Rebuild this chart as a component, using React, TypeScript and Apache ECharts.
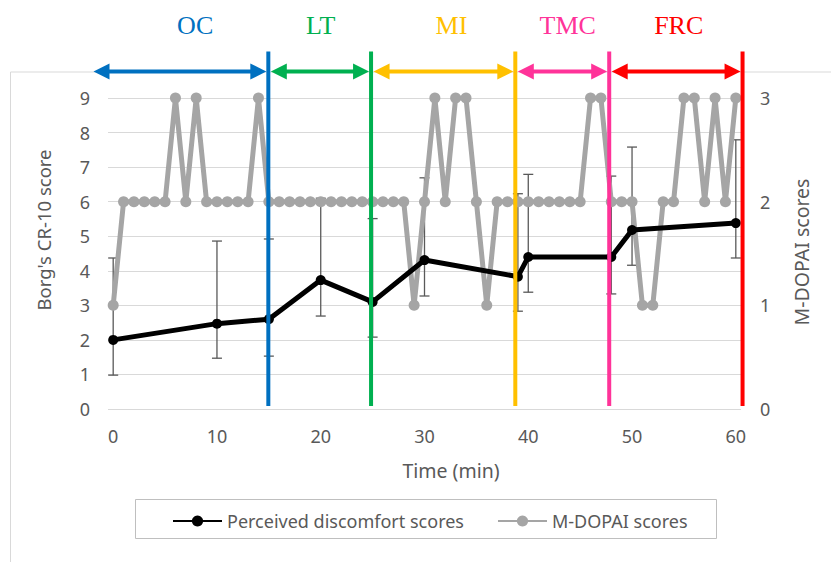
import React, { useEffect, useRef } from 'react';
import * as echarts from 'echarts';

// ---- Data ----
const minutes = [
  0, 1, 2, 3, 4, 5, 6, 7, 8, 9,
  10, 11, 12, 13, 14, 15, 16, 17, 18, 19,
  20, 21, 22, 23, 24, 25, 26, 27, 28, 29,
  30, 31, 32, 33, 34, 35, 36, 37, 38, 39,
  40, 41, 42, 43, 44, 45, 46, 47, 48, 49,
  50, 51, 52, 53, 54, 55, 56, 57, 58, 59,
  60,
];
const mdopaiScores = [
  1, 2, 2, 2, 2, 2, 3, 2, 3, 2,
  2, 2, 2, 2, 3, 2, 2, 2, 2, 2,
  2, 2, 2, 2, 2, 2, 2, 2, 2, 1,
  2, 3, 2, 3, 3, 2, 1, 2, 2, 2,
  2, 2, 2, 2, 2, 2, 3, 3, 2, 2,
  2, 1, 1, 2, 2, 3, 3, 2, 3, 2,
  3,
];

const discomfortTimes = [0, 10, 15, 20, 25, 30, 39, 40, 48, 50, 60];
const discomfortScores = [2.0, 2.47, 2.6, 3.73, 3.1, 4.31, 3.83, 4.4, 4.4, 5.18, 5.38];
const errorUpper = [4.37, 4.86, 4.92, 6.1, 5.51, 6.69, 6.23, 6.79, 6.74, 7.58, 7.79];
const errorLower = [0.98, 1.47, 1.53, 2.69, 2.08, 3.27, 2.83, 3.38, 3.33, 4.16, 4.37];

const xTickValues = [0, 10, 20, 30, 40, 50, 60];

const phaseNames = ['OC', 'LT', 'MI', 'TMC', 'FRC'];
const phaseStart = [-1.9, 14.95, 24.85, 38.75, 47.8];
const phaseEnd = [14.95, 24.85, 38.75, 47.8, 60.65];
const phaseLabelAt = [7.9, 20.0, 32.6, 43.8, 54.5];
const phaseColors = ['#0070C0', '#00B050', '#FFC000', '#FF3399', '#FF0000'];

const SERIES_DISCOMFORT = 'Perceived discomfort scores';
const SERIES_MDOPAI = 'M-DOPAI scores';

export default function App() {
  const ref = useRef<HTMLDivElement>(null);

  useEffect(() => {
    if (!ref.current) return;
    const chart = echarts.init(ref.current, null, { renderer: 'svg' });
    const FONT = 'Noto Sans';
    const TXT = '#595959';

    const option: any = {
      animation: false,
      backgroundColor: '#ffffff',
      grid: { left: 108, right: 90, top: 98, bottom: 153 },
      xAxis: {
        type: 'value',
        min: -0.5,
        max: 60.5,
        axisLine: { show: false },
        axisTick: { show: false },
        splitLine: { show: false },
        axisLabel: {
          customValues: xTickValues,
          color: TXT,
          fontFamily: FONT,
          fontSize: 18,
          margin: 18,
        },
      },
      yAxis: [
        {
          type: 'value',
          min: 0,
          max: 9,
          interval: 1,
          axisLine: { show: false },
          axisTick: { show: false },
          splitLine: { show: true, lineStyle: { color: '#D9D9D9', width: 1 } },
          axisLabel: { color: TXT, fontFamily: FONT, fontSize: 18, margin: 18 },
        },
        {
          type: 'value',
          min: 0,
          max: 3,
          interval: 1,
          position: 'right',
          axisLine: { show: false },
          axisTick: { show: false },
          splitLine: { show: false },
          axisLabel: { color: TXT, fontFamily: FONT, fontSize: 18, margin: 19 },
        },
      ],
      legend: {
        data: [SERIES_DISCOMFORT, SERIES_MDOPAI],
        left: 172,
        top: 512,
        itemWidth: 49,
        itemHeight: 14,
        itemGap: 33,
        padding: 0,
        textStyle: { color: TXT, fontFamily: FONT, fontSize: 18 },
      },
      graphic: [
        {
          type: 'line',
          silent: true,
          shape: { x1: 10.5, y1: 72, x2: 831, y2: 72 },
          style: { stroke: '#D9D9D9', lineWidth: 1 },
          z: -1,
        },
        {
          type: 'line',
          silent: true,
          shape: { x1: 10.5, y1: 72, x2: 10.5, y2: 562 },
          style: { stroke: '#D9D9D9', lineWidth: 1 },
          z: -1,
        },
        {
          type: 'rect',
          silent: true,
          shape: { x: 135.5, y: 499.5, width: 581, height: 39 },
          style: { fill: 'none', stroke: '#BFBFBF', lineWidth: 1 },
        },
        {
          type: 'text',
          x: 43.5,
          y: 230,
          rotation: Math.PI / 2,
          style: {
            text: "Borg's CR-10 score",
            fontFamily: FONT,
            fontSize: 18.5,
            fill: TXT,
            textAlign: 'center',
            textVerticalAlign: 'middle',
          },
        },
        {
          type: 'text',
          x: 801,
          y: 252,
          rotation: Math.PI / 2,
          style: {
            text: 'M-DOPAI scores',
            fontFamily: FONT,
            fontSize: 19.5,
            fill: TXT,
            textAlign: 'center',
            textVerticalAlign: 'middle',
          },
        },
        {
          type: 'text',
          x: 451,
          y: 470,
          style: {
            text: 'Time (min)',
            fontFamily: FONT,
            fontSize: 19.5,
            fill: TXT,
            textAlign: 'center',
            textVerticalAlign: 'middle',
          },
        },
      ],
      series: [
        {
          type: 'custom',
          name: 'errorbars',
          yAxisIndex: 0,
          z: 2,
          silent: true,
          data: discomfortTimes.map((t, i) => [t, errorLower[i], errorUpper[i]]),
          encode: { x: 0, y: [1, 2] },
          renderItem: (params: any, api: any) => {
            const lo = api.coord([api.value(0), api.value(1)]);
            const hi = api.coord([api.value(0), api.value(2)]);
            const st = { stroke: '#595959', lineWidth: 1.3 };
            return {
              type: 'group',
              children: [
                { type: 'line', shape: { x1: lo[0], y1: lo[1], x2: hi[0], y2: hi[1] }, style: st },
                { type: 'line', shape: { x1: lo[0] - 5, y1: lo[1], x2: lo[0] + 5, y2: lo[1] }, style: st },
                { type: 'line', shape: { x1: hi[0] - 5, y1: hi[1], x2: hi[0] + 5, y2: hi[1] }, style: st },
              ],
            };
          },
        },
        {
          type: 'line',
          name: SERIES_MDOPAI,
          yAxisIndex: 1,
          z: 3,
          data: minutes.map((m, i) => [m, mdopaiScores[i]]),
          symbol: 'circle',
          symbolSize: 11,
          showAllSymbol: true,
          lineStyle: { color: '#A5A5A5', width: 5 },
          itemStyle: { color: '#A5A5A5' },
        },
        {
          type: 'line',
          name: SERIES_DISCOMFORT,
          yAxisIndex: 0,
          z: 4,
          data: discomfortTimes.map((t, i) => [t, discomfortScores[i]]),
          symbol: 'circle',
          symbolSize: 10,
          showAllSymbol: true,
          lineStyle: { color: '#000000', width: 5 },
          itemStyle: { color: '#000000' },
        },
        {
          type: 'custom',
          name: 'phases',
          yAxisIndex: 0,
          z: 6,
          silent: true,
          clip: false,
          data: phaseNames.map((_, i) => [phaseStart[i], phaseEnd[i], phaseLabelAt[i], 0]),
          encode: { x: [0, 1, 2], y: 3 },
          renderItem: (params: any, api: any) => {
            const i = params.dataIndex;
            const color = phaseColors[i];
            const top = api.coord([0, 9])[1];
            const bottom = api.coord([0, 0])[1];
            const xs = api.coord([api.value(0), 0])[0];
            const xe = api.coord([api.value(1), 0])[0];
            const xl = api.coord([api.value(2), 0])[0];
            const ay = top - 26.5;
            const hl = 16;
            const hw = 8;
            const xL = xs + (i === 0 ? 0 : 2.5);
            const xR = xe - 2;
            return {
              type: 'group',
              children: [
                {
                  type: 'line',
                  shape: { x1: xe, y1: top - 46.5, x2: xe, y2: bottom - 3 },
                  style: { stroke: color, lineWidth: 4 },
                },
                {
                  type: 'line',
                  shape: { x1: xL + hl - 2, y1: ay, x2: xR - hl + 2, y2: ay },
                  style: { stroke: color, lineWidth: 4 },
                },
                {
                  type: 'polygon',
                  shape: { points: [[xL, ay], [xL + hl, ay - hw], [xL + hl, ay + hw]] },
                  style: { fill: color },
                },
                {
                  type: 'polygon',
                  shape: { points: [[xR, ay], [xR - hl, ay - hw], [xR - hl, ay + hw]] },
                  style: { fill: color },
                },
                {
                  type: 'text',
                  x: xl,
                  y: top - 73,
                  style: {
                    text: phaseNames[i],
                    fontFamily: '"Liberation Serif", "Times New Roman", serif',
                    fontSize: 26,
                    fill: color,
                    textAlign: 'center',
                    textVerticalAlign: 'middle',
                  },
                },
              ],
            };
          },
        },
      ],
    };

    chart.setOption(option);
    return () => chart.dispose();
  }, []);

  return (
    <div
      ref={ref}
      style={{ position: 'fixed', left: 0, top: 0, width: 831, height: 562, background: '#fff' }}
    />
  );
}
